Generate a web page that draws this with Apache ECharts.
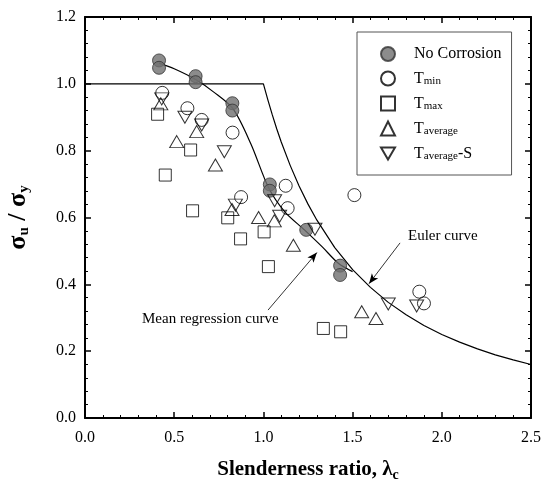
<!DOCTYPE html>
<html>
<head>
<meta charset="utf-8">
<script src="https://cdn.jsdelivr.net/npm/echarts@6/dist/echarts.min.js"></script>
<style>html,body{margin:0;padding:0;background:#fff}#c{width:545px;height:492px}</style>
</head>
<body>
<div id="c"></div>
<script>
// ---- data ----
var xTicks = [0.0, 0.5, 1.0, 1.5, 2.0, 2.5];
var yTicks = [0.0, 0.2, 0.4, 0.6, 0.8, 1.0, 1.2];
var seriesNames = ['No Corrosion', 'Tmin', 'Tmax', 'Taverage', 'Taverage-S'];

var noCorrosion = [[0.415,1.070],[0.415,1.048],[0.62,1.023],[0.62,1.005],[0.826,0.942],[0.826,0.920],
  [1.036,0.699],[1.036,0.680],[1.24,0.563],[1.43,0.456],[1.43,0.428]];
var tMin = [[0.433,0.973],[0.574,0.927],[0.654,0.892],[0.827,0.854],[0.875,0.661],[1.125,0.695],
  [1.136,0.628],[1.51,0.667],[1.874,0.378],[1.90,0.343]];
var tMax = [[0.407,0.909],[0.450,0.727],[0.592,0.802],[0.603,0.620],[0.800,0.599],[0.872,0.536],
  [1.004,0.557],[1.028,0.453],[1.336,0.268],[1.433,0.258]];
var tAvg = [[0.425,0.940],[0.514,0.827],[0.626,0.857],[0.731,0.757],[0.824,0.624],[0.973,0.600],
  [1.061,0.590],[1.168,0.517],[1.551,0.318],[1.631,0.298]];
var tAvgS = [[0.430,0.955],[0.560,0.900],[0.654,0.877],[0.781,0.797],[0.843,0.637],[1.063,0.650],
  [1.091,0.604],[1.289,0.565],[1.700,0.341],[1.859,0.335]];

var eulerCurve = [[0.0,1.0],[1.0,1.0],[1.025,0.952],[1.05,0.907],[1.075,0.865],[1.1,0.826],[1.15,0.756],
  [1.2,0.694],[1.25,0.640],[1.3,0.592],[1.4,0.510],[1.5,0.444],[1.6,0.391],[1.7,0.346],[1.8,0.309],
  [1.9,0.277],[2.0,0.250],[2.1,0.227],[2.2,0.207],[2.3,0.189],[2.4,0.174],[2.5,0.160]];
var meanCurve = [[0.415,1.062],[0.5,1.045],[0.62,1.013],[0.72,0.976],[0.83,0.925],[0.93,0.820],
  [1.03,0.688],[1.12,0.617],[1.23,0.563],[1.33,0.512],[1.42,0.463],[1.50,0.438]];

var meanArrow = [[1.026,0.323],[1.30,0.495]];
var eulerArrow = [[1.766,0.524],[1.592,0.402]];

// ---- chart ----
var SERIF = '"Liberation Serif","DejaVu Serif",serif';
var chart = echarts.init(document.getElementById('c'), null, {renderer:'canvas'});

function legendFmt(n){
  if(n === 'Tmin') return '{m|T}{s|min}';
  if(n === 'Tmax') return '{m|T}{s|max}';
  if(n === 'Taverage') return '{m|T}{s|average}';
  if(n === 'Taverage-S') return '{m|T}{s|average}{m|-S}';
  return '{m|' + n + '}';
}

function axisCommon(show){
  return {
    type:'value', min:0,
    axisLine:{show:true, onZero:false, lineStyle:{color:'#000', width:2}},
    axisTick:{show:true, inside:true, length:6, lineStyle:{color:'#000', width:1.5}},
    minorTick:{show:true, splitNumber:5, length:3, lineStyle:{color:'#000', width:1}},
    splitLine:{show:false},
    axisLabel:{show:show, color:'#000', fontFamily:SERIF, fontSize:16,
      formatter:function(v){return v.toFixed(1);}}
  };
}

var xB = axisCommon(true);
xB.position='bottom'; xB.max = xTicks[xTicks.length-1]; xB.interval = xTicks[1]-xTicks[0];
xB.axisLabel.margin = 12;
xB.name = '{t|Slenderness ratio, λ}{s|c}';
xB.nameLocation='middle'; xB.nameGap = 40;
xB.nameTextStyle = {rich:{
  t:{fontFamily:SERIF, fontSize:21, fontWeight:'bold', color:'#000', lineHeight:24},
  s:{fontFamily:SERIF, fontSize:14, fontWeight:'bold', color:'#000', lineHeight:10, verticalAlign:'bottom'}
}};
var xT = axisCommon(false);
xT.position='top'; xT.max = xB.max; xT.interval = xB.interval;

var yL = axisCommon(true);
yL.position='left'; yL.max = yTicks[yTicks.length-1]; yL.interval = yTicks[1]-yTicks[0];
yL.axisLabel.margin = 9;
yL.name = '{t|σ}{s|u}{t| / σ}{s|y}';
yL.nameLocation='middle'; yL.nameRotate = 90; yL.nameGap = 53;
yL.nameTextStyle = {rich:{
  t:{fontFamily:SERIF, fontSize:26, fontWeight:'bold', color:'#000', lineHeight:28},
  s:{fontFamily:SERIF, fontSize:15, fontWeight:'bold', color:'#000', lineHeight:12, verticalAlign:'bottom'}
}};
var yR = axisCommon(false);
yR.position='right'; yR.max = yL.max; yR.interval = yL.interval;

var openStyle = {color:'rgba(255,255,255,0)', borderColor:'#000', borderWidth:1};

function scat(name, data, symbol, size, style, rot){
  return {type:'scatter', name:name, data:data, symbol:symbol, symbolSize:size,
    symbolRotate:rot||0, itemStyle:style, xAxisIndex:0, yAxisIndex:0, z:3,
    emphasis:{disabled:true}};
}

var legendData = seriesNames.map(function(n){
  if(n === 'Taverage-S') return {name:n, icon:'path://M0,0 L14,0 L7,12 Z'};
  return {name:n};
});

var option = {
  animation:false,
  backgroundColor:'#fff',
  grid:{left:85, top:17, right:14, bottom:74, containLabel:false, outerBoundsMode:'none'},
  xAxis:[xB, xT],
  yAxis:[yL, yR],
  legend:{
    data:legendData, orient:'vertical', left:357, top:32,
    padding:[14, 10, 13, 23], itemGap:8.5, itemWidth:14, itemHeight:14,
    borderColor:'#555', borderWidth:1, backgroundColor:'#fff',
    selectedMode:false,
    formatter:legendFmt,
    textStyle:{padding:[0,0,0,14], rich:{
      m:{fontFamily:SERIF, fontSize:16, color:'#000', lineHeight:17},
      s:{fontFamily:SERIF, fontSize:11, color:'#000', lineHeight:8, verticalAlign:'bottom'}
    }}
  },
  series:[
    {type:'line', name:'Euler', data:eulerCurve, showSymbol:false, symbol:'none',
      lineStyle:{color:'#000', width:1.2}, z:2, silent:true},
    {type:'line', name:'Mean', data:meanCurve, showSymbol:false, symbol:'none', smooth:0.3,
      lineStyle:{color:'#000', width:1.2}, z:2, silent:true,
      markLine:{silent:true, symbol:['none','arrow'], symbolSize:[6,10], label:{show:false},
        lineStyle:{color:'#000', width:0.8, type:'solid'},
        emphasis:{disabled:true},
        data:[
          [{coord:meanArrow[0]},{coord:meanArrow[1]}],
          [{coord:eulerArrow[0]},{coord:eulerArrow[1]}]
        ]}},
    scat('No Corrosion', noCorrosion, 'circle', 13, {color:'#6f6f6f', borderColor:'#333', borderWidth:1}),
    scat('Tmin', tMin, 'circle', 13, openStyle),
    scat('Tmax', tMax, 'rect', 12, openStyle),
    scat('Taverage', tAvg, 'triangle', [14,12], openStyle),
    scat('Taverage-S', tAvgS, 'triangle', [14,12], openStyle, 180)
  ],
  graphic:[
    {type:'text', left:408, top:229, style:{text:'Euler curve', font:'15px '+SERIF, fill:'#000'}},
    {type:'text', left:142, top:312, style:{text:'Mean regression curve', font:'15px '+SERIF, fill:'#000'}}
  ]
};
chart.setOption(option);
</script>
</body>
</html>
